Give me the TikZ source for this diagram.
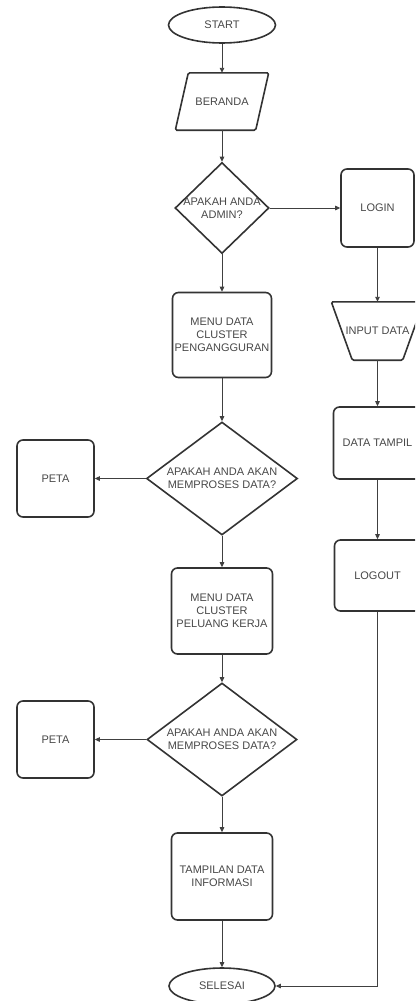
\documentclass[tikz,border=0pt]{standalone}
\usepackage{fontspec}
\setmainfont{Liberation Sans}
\usetikzlibrary{shapes.geometric,arrows.meta}
\begin{document}
\begin{tikzpicture}[x=1pt,y=-1pt,
  every node/.style={font=\fontsize{11}{13}\selectfont, text=black!72},
  box/.style={draw=black!80, line width=1.6pt, rounded corners=6pt, align=center, inner sep=0pt},
  term/.style={ellipse, draw=black!80, line width=1.6pt, inner sep=0pt},
  dec/.style={diamond, draw=black!80, line width=1.6pt, inner sep=0pt},
  shapeonly/.style={inner sep=0pt, align=center},
  outline/.style={draw=black!80, line width=1.6pt, rounded corners=1.5pt},
  conn/.style={draw=black!75, line width=0.9pt, -{Triangle[length=5pt,width=4.5pt]}},
]
\clip (0,0) rectangle (415,1001);
% main column
\node[term, minimum width=107pt, minimum height=36pt] (start) at (222,25) {START};
\node[shapeonly, minimum width=93pt, minimum height=57pt] (ber) at (222,101.5) {BERANDA};
\draw[outline] ([xshift=13pt]ber.north west) -- (ber.north east) -- ([xshift=-13pt]ber.south east) -- (ber.south west) -- cycle;
\node[dec, minimum width=94pt, minimum height=91pt, label={[align=center]center:APAKAH ANDA\\ADMIN?}] (d1) at (222,208) {};
\node[box, minimum width=99pt, minimum height=85pt] (m1) at (222,335) {MENU DATA\\CLUSTER\\PENGANGGURAN};
\node[dec, minimum width=151pt, minimum height=113pt, label={[align=center]center:APAKAH ANDA AKAN\\MEMPROSES DATA?}] (d2) at (222,478.5) {};
\node[box, minimum width=77pt, minimum height=77pt] (peta1) at (55.5,478.5) {PETA};
\node[box, minimum width=101pt, minimum height=86pt] (m2) at (222,611) {MENU DATA\\CLUSTER\\PELUANG KERJA};
\node[dec, minimum width=150pt, minimum height=113pt, label={[align=center]center:APAKAH ANDA AKAN\\MEMPROSES DATA?}] (d3) at (222,739.5) {};
\node[box, minimum width=77pt, minimum height=77pt] (peta2) at (55.5,739.5) {PETA};
\node[box, minimum width=101pt, minimum height=87pt] (tamp) at (222,876.5) {TAMPILAN DATA\\INFORMASI};
\node[term, minimum width=106pt, minimum height=36pt] (sel) at (222,986) {SELESAI};
% right column
\node[box, minimum width=73pt, minimum height=78pt] (login) at (377.5,208) {LOGIN};
\node[shapeonly, minimum width=92pt, minimum height=58pt] (inp) at (377.5,331) {INPUT DATA};
\draw[outline] (inp.north west) -- (inp.north east) -- ([xshift=-21pt]inp.south east) -- ([xshift=21pt]inp.south west) -- cycle;
\node[box, minimum width=88pt, minimum height=72pt] (dt) at (377.5,443) {DATA TAMPIL};
\node[box, minimum width=86pt, minimum height=71pt] (logout) at (377.5,575.5) {LOGOUT};
% connectors
\draw[conn] (start.south) -- (ber.north);
\draw[conn] (ber.south) -- (d1.north);
\draw[conn] (d1.south) -- (m1.north);
\draw[conn] (d1.east) -- (login.west);
\draw[conn] (login.south) -- (inp.north);
\draw[conn] (inp.south) -- (dt.north);
\draw[conn] (dt.south) -- (logout.north);
\draw[conn] (m1.south) -- (d2.north);
\draw[conn] (d2.west) -- (peta1.east);
\draw[conn] (d2.south) -- (m2.north);
\draw[conn] (m2.south) -- (d3.north);
\draw[conn] (d3.west) -- (peta2.east);
\draw[conn] (d3.south) -- (tamp.north);
\draw[conn] (tamp.south) -- (sel.north);
\draw[conn] (logout.south) |- (sel.east);
\end{tikzpicture}
\end{document}
